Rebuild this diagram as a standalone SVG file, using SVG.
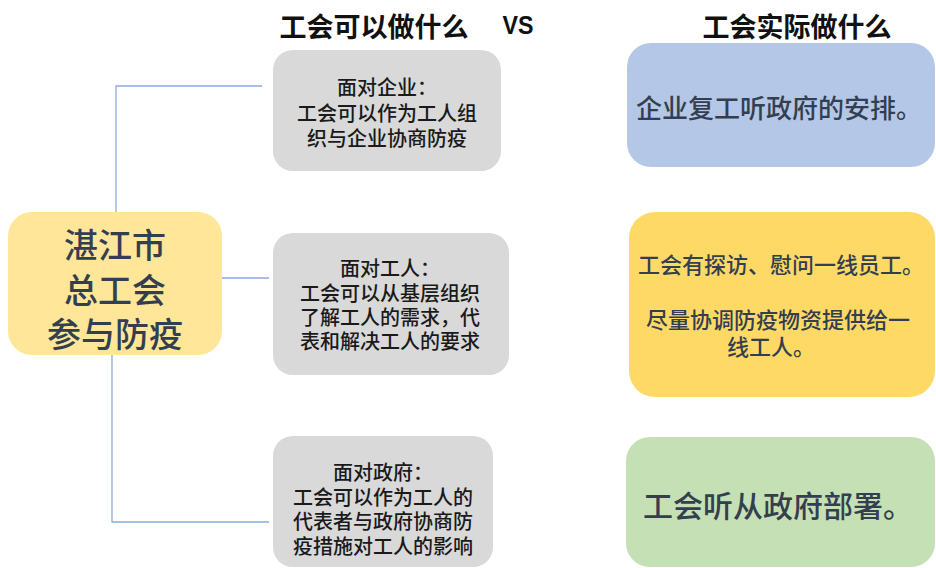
<svg xmlns="http://www.w3.org/2000/svg" width="936" height="568" viewBox="0 0 936 568">
<style>
text{font-family:"Noto Sans CJK SC","Liberation Sans",sans-serif;text-anchor:middle;dominant-baseline:central}
tspan{dominant-baseline:central}
.title{font-size:27px;font-weight:700;fill:#111}
.vs{font-family:"Liberation Sans",sans-serif;font-size:25px;font-weight:700;fill:#111}
.gray{fill:#D9D9D9}
.gt{font-size:20px;font-weight:500;fill:#1a1a1a}
.rt{fill:#333F50;font-weight:500}
.conn{fill:none;stroke:#8FAADC;stroke-width:1.3}
</style>
<rect width="936" height="568" fill="#ffffff"/>
<g id="headers">
<text class="title" x="374" y="25">工会可以做什么</text>
<text class="vs" x="518" y="25" textLength="31" lengthAdjust="spacingAndGlyphs">VS</text>
<text class="title" x="797" y="25">工会实际做什么</text>
</g>
<g id="connectors">
<path class="conn" d="M116,212 V86 H262"/>
<path class="conn" d="M222,278 H269"/>
<path class="conn" d="M112,355 V522 H269"/>
</g>
<g id="center">
<rect x="8" y="212" width="214" height="143" rx="24" fill="#FFE699"/>
<text font-size="34" font-weight="500" fill="#333F50"><tspan x="115" y="243">湛江市</tspan><tspan x="115" y="288">总工会</tspan><tspan x="115" y="332">参与防疫</tspan></text>
</g>
<g id="can-enterprise">
<rect class="gray" x="273" y="50" width="228" height="121" rx="20"/>
<text class="gt"><tspan x="387" y="86">面对企业：</tspan><tspan x="387" y="112">工会可以作为工人组</tspan><tspan x="387" y="137">织与企业协商防疫</tspan></text>
</g>
<g id="can-worker">
<rect class="gray" x="273" y="233" width="236" height="142" rx="20"/>
<text class="gt"><tspan x="390" y="267">面对工人：</tspan><tspan x="390" y="292">工会可以从基层组织</tspan><tspan x="390" y="316">了解工人的需求，代</tspan><tspan x="390" y="340">表和解决工人的要求</tspan></text>
</g>
<g id="can-government">
<rect class="gray" x="273" y="436" width="220" height="131" rx="20"/>
<text class="gt"><tspan x="383" y="471">面对政府：</tspan><tspan x="383" y="496">工会可以作为工人的</tspan><tspan x="383" y="520">代表者与政府协商防</tspan><tspan x="383" y="545">疫措施对工人的影响</tspan></text>
</g>
<g id="did-enterprise">
<rect x="627" y="43" width="308" height="124" rx="24" fill="#B4C7E7"/>
<text class="rt" x="779" y="106" font-size="26">企业复工听政府的安排。</text>
</g>
<g id="did-worker">
<rect x="629" y="212" width="306" height="185" rx="26" fill="#FFD966"/>
<text class="rt" font-size="22"><tspan x="781" y="263">工会有探访、慰问一线员工。</tspan><tspan x="778" y="318">尽量协调防疫物资提供给一</tspan><tspan x="771" y="345">线工人。</tspan></text>
</g>
<g id="did-government">
<rect x="626" y="437" width="309" height="130" rx="24" fill="#C5E0B4"/>
<text class="rt" x="778" y="504" font-size="30">工会听从政府部署。</text>
</g>
</svg>
